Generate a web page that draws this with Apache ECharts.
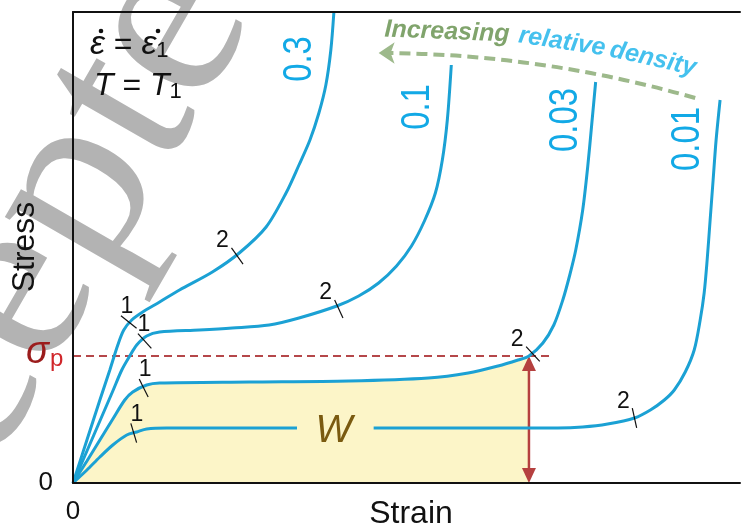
<!DOCTYPE html>
<html>
<head>
<meta charset="utf-8">
<script src="https://cdn.jsdelivr.net/npm/echarts@6/dist/echarts.min.js"></script>
<style>
  html, body { margin: 0; padding: 0; background: #fff; }
  #chart { width: 743px; height: 527px; }
</style>
</head>
<body>
<div id="chart"></div>
<script>
// schematic stress-strain curves, arbitrary units (strain 0-67, stress 0-47.1)
var densities = ['0.3', '0.1', '0.03', '0.01']
var curve03 = [[0,0],[1.4,4.3],[2.7,8.3],[3.7,11.3],[4.5,13.8],[5.1,15.3],[5.9,16.3],[7.0,17.1],
  [8.7,18.1],[10.7,19.3],[14.0,21.1],[16.7,23.0],[19.4,25.6],[21.4,29.0],[22.7,31.8],[23.8,34.3],
  [24.7,37.0],[25.4,39.8],[25.9,43.3],[26.2,47.0]]
var curve01 = [[0,0],[1.4,3.2],[2.7,6.2],[4.0,9.2],[4.9,11.3],[5.7,12.7],[6.4,13.8],[7.4,14.7],
  [8.7,15.1],[12.7,15.3],[16.0,15.5],[19.7,15.8],[22.7,16.5],[26.5,17.7],[28.7,18.7],[30.7,20.0],
  [32.5,21.7],[34.0,23.7],[35.3,26.2],[36.4,29.0],[37.1,32.3],[37.6,36.3],[38.0,41.8]]
var curve003 = [[0,0],[1.4,2.2],[2.7,4.3],[4.0,6.4],[5.2,8.3],[6.0,9.1],[7.4,9.8],[8.7,10.0],
  [17.7,10.1],[27.7,10.2],[35.7,10.5],[39.7,11.0],[42.7,11.7],[44.7,12.3],[45.8,12.7],[47.2,14.0],
  [48.3,15.8],[49.2,18.3],[49.9,20.8],[50.5,23.3],[51.2,27.3],[51.7,31.6],[52.1,35.8],[52.5,40.1]]
var curve001 = [[0,0],[1.4,1.3],[2.7,2.6],[4.0,3.8],[5.4,4.8],[6.4,5.1],[7.4,5.4],[9.4,5.5],
  [22.5,5.5],[30.2,5.5],[48.7,5.5],[51.2,5.6],[53.7,5.9],[56.4,6.5],[58.0,7.3],[59.4,8.3],
  [60.4,9.3],[61.5,11.1],[62.4,13.3],[63.0,16.3],[63.4,19.0],[63.7,22.3],[64.0,26.3],[64.3,30.3],
  [64.6,34.3],[65.0,38.3]]
var curves = [curve03, curve01, curve003, curve001]
var wGap = [22.5, 30.2]          // curve 0.01 is broken here for the W label
var sigmaP = 12.7
var sigmaPStrain = 45.8
var sigmaPLineEnd = 48.2
// stage 1 / stage 2 marks on each curve: [strain, stress, curve index]
var stage1 = [[5.6,16.1,0],[7.2,14.2,1],[7.1,9.5,2],[6.1,5.0,3]]
var stage2 = [[16.5,22.7,0],[26.7,17.4,1],[46.2,12.9,2],[56.4,6.5,3]]
var densityArrow = [[62.5,38.5],[30.7,43.0]]

var blue = '#1ba1d4'
var sans = '"Liberation Sans", Arial, sans-serif'

// 0.01 with the gap
var curve001Drawn = []
curve001.forEach(function (p) {
  curve001Drawn.push(p)
  if (p[0] === wGap[0]) curve001Drawn.push([(wGap[0] + wGap[1]) / 2, '-'])
})
var fillPts = curve003.filter(function (p) { return p[0] <= sigmaPStrain })

function markItem(stage) {
  return function (params, api) {
    var x = api.value(0), y = api.value(1), pts = curves[api.value(2)]
    var i = 1
    while (i < pts.length - 1 && pts[i][0] < x) i++
    var a = api.coord(pts[i - 1]), b = api.coord(pts[i])
    var dx = b[0] - a[0], dy = b[1] - a[1], len = Math.sqrt(dx * dx + dy * dy)
    var nx = -dy / len, ny = dx / len
    if (ny < 0) { nx = -nx; ny = -ny }
    var p = api.coord([x, y]), h = 10
    var tx = p[0] - nx * h, ty = p[1] - ny * h
    return {
      type: 'group',
      children: [
        { type: 'line', shape: { x1: tx, y1: ty, x2: p[0] + nx * h, y2: p[1] + ny * h },
          style: { stroke: '#111', lineWidth: 1.2 } },
        { type: 'text', x: tx + (stage === 1 ? 6 : -9), y: ty - (stage === 1 ? 9 : 7),
          style: { text: String(stage), font: '23px ' + sans, fill: '#111', align: 'center', verticalAlign: 'middle' } }
      ]
    }
  }
}

// double arrow from the strain axis up to sigma_p
function sigmaArrow(params, api) {
  var top = api.coord([api.value(0), api.value(1)])
  var bot = api.coord([api.value(0), 0])
  var x = top[0], hl = 15, hw = 7, col = '#b5403f'
  return {
    type: 'group',
    children: [
      { type: 'line', shape: { x1: x, y1: top[1] + hl - 2, x2: x, y2: bot[1] - hl + 2 },
        style: { stroke: col, lineWidth: 2.5 } },
      { type: 'polygon', shape: { points: [[x, top[1]], [x - hw, top[1] + hl], [x + hw, top[1] + hl]] },
        style: { fill: col } },
      { type: 'polygon', shape: { points: [[x, bot[1]], [x - hw, bot[1] - hl], [x + hw, bot[1] - hl]] },
        style: { fill: col } }
    ]
  }
}

function curveSeries(name, data) {
  return {
    name: name, type: 'line', data: data, smooth: 0.3, symbol: 'none', z: 3,
    lineStyle: { color: blue, width: 3 }, connectNulls: false
  }
}

var chart = echarts.init(document.getElementById('chart'))
var option = {
  animation: false,
  grid: { left: 73, right: 0, top: 12, bottom: 44 },
  xAxis: [{
    type: 'value', min: 0, max: 67, z: 5,
    axisLine: { lineStyle: { color: '#111', width: 2 } },
    axisTick: { show: false }, splitLine: { show: false },
    axisLabel: { margin: 16, fontSize: 26, color: '#111', fontFamily: sans,
      formatter: function (v) { return v === 0 ? '0' : '' } }
  }, {
    type: 'value', min: 0, max: 67, position: 'top', z: 5,
    axisLine: { lineStyle: { color: '#111', width: 2 } },
    axisTick: { show: false }, splitLine: { show: false }, axisLabel: { show: false }
  }],
  yAxis: {
    type: 'value', min: 0, max: 47.1, z: 5,
    axisLine: { show: true, lineStyle: { color: '#111', width: 2 } },
    axisTick: { show: false }, splitLine: { show: false },
    axisLabel: { margin: 20, fontSize: 26, color: '#111', fontFamily: sans,
      formatter: function (v) { return v === 0 ? '0' : '' } }
  },
  series: [
    { type: 'line', data: fillPts, smooth: 0.3, symbol: 'none', z: 1,
      lineStyle: { width: 0 }, areaStyle: { color: '#fcf5c8', opacity: 1 } },
    { type: 'lines', coordinateSystem: 'cartesian2d', z: 2, symbol: 'none',
      lineStyle: { color: '#b5474a', width: 2, type: [8, 5], opacity: 1 },
      data: [{ coords: [[0, sigmaP], [sigmaPLineEnd, sigmaP]] }] },
    { type: 'custom', renderItem: sigmaArrow, data: [[sigmaPStrain, sigmaP]], z: 2 },
    curveSeries('0.3', curve03),
    curveSeries('0.1', curve01),
    curveSeries('0.03', curve003),
    curveSeries('0.01', curve001Drawn),
    { type: 'custom', renderItem: markItem(1), data: stage1, z: 4 },
    { type: 'custom', renderItem: markItem(2), data: stage2, z: 4 },
    { type: 'lines', coordinateSystem: 'cartesian2d', z: 2, symbol: ['none', 'arrow'], symbolSize: 16,
      color: '#9db98b', itemStyle: { color: '#9db98b' },
      lineStyle: { color: '#9db98b', width: 4, type: [11, 6], curveness: -0.07, opacity: 1 },
      data: [{ coords: densityArrow }] }
  ],
  graphic: [
    { type: 'text', x: -212, y: 691, rotation: Math.PI / 3, z: 0,
      style: { text: 'Accepted', font: '250px "Liberation Serif", serif', fill: '#b3b3b3', align: 'left', verticalAlign: 'middle' } },
    { type: 'text', x: 25, y: 247, rotation: Math.PI / 2, z: 10,
      style: { text: 'Stress', font: '32px ' + sans, fill: '#111', align: 'center', verticalAlign: 'middle' } },
    { type: 'text', x: 411, y: 514, z: 10,
      style: { text: 'Strain', font: '32px ' + sans, fill: '#111', align: 'center', verticalAlign: 'middle' } },
    { type: 'text', x: 90, y: 45, z: 10,
      style: { text: '{i|\u03b5} = {i|\u03b5}{s|1}', font: '32px ' + sans, fill: '#111', verticalAlign: 'middle',
        rich: { i: { fontStyle: 'italic', fontSize: 34 }, s: { fontSize: 22, verticalAlign: 'bottom', padding: [12, 0, 0, 0] } } } },
    { type: 'circle', shape: { cx: 101, cy: 31, r: 2.3 }, style: { fill: '#111' }, z: 10 },
    { type: 'circle', shape: { cx: 158, cy: 31, r: 2.3 }, style: { fill: '#111' }, z: 10 },
    { type: 'text', x: 94, y: 86, z: 10,
      style: { text: '{i|T} = {i|T}{s|1}', font: '32px ' + sans, fill: '#111', verticalAlign: 'middle',
        rich: { i: { fontStyle: 'italic', fontSize: 32 }, s: { fontSize: 22, verticalAlign: 'bottom', padding: [12, 0, 0, 0] } } } },
    { type: 'text', x: 300, y: 59, rotation: Math.PI / 2, scaleX: 0.82, z: 10,
      style: { text: densities[0], font: '40px ' + sans, fill: '#12a9e6', align: 'center', verticalAlign: 'middle' } },
    { type: 'text', x: 418, y: 107, rotation: Math.PI / 2, scaleX: 0.82, z: 10,
      style: { text: densities[1], font: '40px ' + sans, fill: '#12a9e6', align: 'center', verticalAlign: 'middle' } },
    { type: 'text', x: 566, y: 120, rotation: Math.PI / 2, scaleX: 0.82, z: 10,
      style: { text: densities[2], font: '40px ' + sans, fill: '#12a9e6', align: 'center', verticalAlign: 'middle' } },
    { type: 'text', x: 688, y: 139, rotation: Math.PI / 2, scaleX: 0.82, z: 10,
      style: { text: densities[3], font: '40px ' + sans, fill: '#12a9e6', align: 'center', verticalAlign: 'middle' } },
    { type: 'text', x: 447, y: 32, rotation: -0.04, z: 10,
      style: { text: 'Increasing', font: 'italic bold 25px ' + sans, fill: '#80a46c', align: 'center', verticalAlign: 'middle' } },
    { type: 'text', x: 562, y: 42, rotation: -0.15, z: 10,
      style: { text: 'relative', font: 'italic bold 25px ' + sans, fill: '#45c1ee', align: 'center', verticalAlign: 'middle' } },
    { type: 'text', x: 653, y: 59, rotation: -0.22, z: 10,
      style: { text: 'density', font: 'italic bold 25px ' + sans, fill: '#45c1ee', align: 'center', verticalAlign: 'middle' } },
    { type: 'text', x: 334, y: 431, z: 10,
      style: { text: 'W', font: 'italic 39px ' + sans, fill: '#7a5a10', align: 'center', verticalAlign: 'middle' } },
    { type: 'text', x: 26, y: 352, z: 10,
      style: { text: '{s|\u03c3}{p|p}', verticalAlign: 'middle',
        rich: { s: { fontStyle: 'italic', fontSize: 38, fontFamily: sans, fill: '#9b1c1c' },
                p: { fontSize: 24, fontFamily: sans, fill: '#d0262a', verticalAlign: 'bottom', padding: [14, 0, 0, 1] } } } }
  ]
}
chart.setOption(option)
</script>
</body>
</html>
